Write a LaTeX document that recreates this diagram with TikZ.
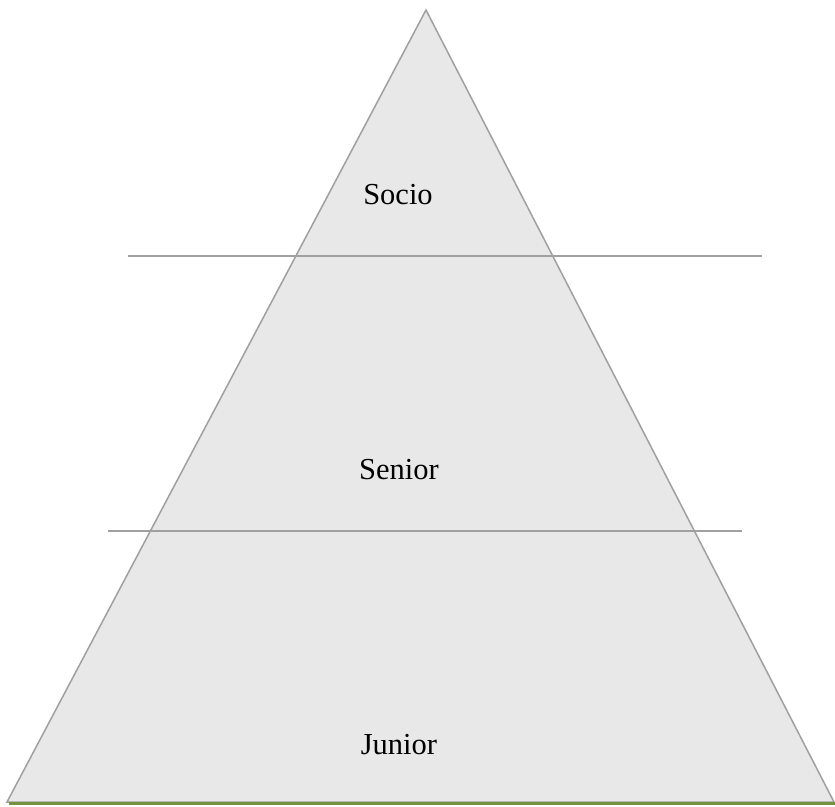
\documentclass[tikz,border=0pt]{standalone}
\usepackage{fontspec}
\setmainfont{Liberation Serif}
\definecolor{pyrfill}{RGB}{232,232,232}
\definecolor{pyredge}{RGB}{160,160,160}
\definecolor{baseline}{RGB}{118,146,60}
\tikzset{
  lvlline/.style={draw=pyredge, line width=1.5pt},
  lvllabel/.style={font=\fontsize{30.5}{34}\selectfont, text=black, inner sep=0pt}
}
\begin{document}
\begin{tikzpicture}[x=1pt,y=-1pt]
\useasboundingbox (0,0) rectangle (835,806);
\fill[white] (0,0) rectangle (835,806);
\coordinate (apex) at (426,10);
\coordinate (bl) at (7,802);
\coordinate (br) at (834,802);
\filldraw[fill=pyrfill, draw=pyredge, line width=1.5pt] (bl) -- (apex) -- (br) -- cycle;
\coordinate (l1a) at (128,256);
\coordinate (l1b) at (762,256);
\coordinate (l2a) at (108,531);
\coordinate (l2b) at (742,531);
\draw[lvlline] (l1a) -- (l1b);
\draw[lvlline] (l2a) -- (l2b);
\coordinate (g1) at (9,803.5);
\coordinate (g2) at (835,803.5);
\draw[draw=baseline, line width=3pt] (g1) -- (g2);
\node[lvllabel] (socio) at (398,195) {Socio};
\node[lvllabel] (senior) at (399,470) {Senior};
\node[lvllabel] (junior) at (399,745) {Junior};
\end{tikzpicture}
\end{document}
